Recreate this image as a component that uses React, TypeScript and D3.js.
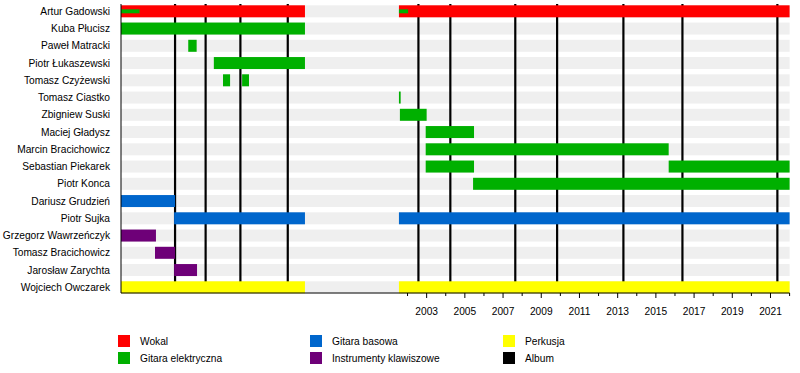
import React from 'react';
import { scaleLinear, scalePoint, range } from 'd3';

// members, top to bottom
const members = [
  'Artur Gadowski',
  'Kuba Płucisz',
  'Paweł Matracki',
  'Piotr Łukaszewski',
  'Tomasz Czyżewski',
  'Tomasz Ciastko',
  'Zbigniew Suski',
  'Maciej Gładysz',
  'Marcin Bracichowicz',
  'Sebastian Piekarek',
  'Piotr Konca',
  'Dariusz Grudzień',
  'Piotr Sujka',
  'Grzegorz Wawrzeńczyk',
  'Tomasz Bracichowicz',
  'Jarosław Zarychta',
  'Wojciech Owczarek',
];

const roles = ['Wokal', 'Gitara elektryczna', 'Gitara basowa', 'Instrumenty klawiszowe', 'Perkusja', 'Album'];
const roleColors = ['#ff0000', '#00b000', '#0066cc', '#6e0078', '#ffff00', '#000000'];

// [member, role index, from, to]
const periods: [string, number, number, number][] = [
  ['Artur Gadowski', 0, 1987, 1996.63],
  ['Artur Gadowski', 0, 2001.55, 2022],
  ['Kuba Płucisz', 1, 1987, 1996.63],
  ['Paweł Matracki', 1, 1990.52, 1990.96],
  ['Piotr Łukaszewski', 1, 1991.86, 1996.63],
  ['Tomasz Czyżewski', 1, 1992.34, 1992.71],
  ['Tomasz Czyżewski', 1, 1993.34, 1993.7],
  ['Tomasz Ciastko', 1, 2001.55, 2001.64],
  ['Zbigniew Suski', 1, 2001.6, 2003.0],
  ['Maciej Gładysz', 1, 2002.95, 2005.48],
  ['Marcin Bracichowicz', 1, 2002.95, 2015.67],
  ['Sebastian Piekarek', 1, 2002.95, 2005.48],
  ['Sebastian Piekarek', 1, 2015.67, 2022],
  ['Piotr Konca', 1, 2005.43, 2022],
  ['Dariusz Grudzień', 2, 1987, 1989.83],
  ['Piotr Sujka', 2, 1989.78, 1996.63],
  ['Piotr Sujka', 2, 2001.55, 2022],
  ['Grzegorz Wawrzeńczyk', 3, 1987, 1988.83],
  ['Tomasz Bracichowicz', 3, 1988.78, 1989.83],
  ['Jarosław Zarychta', 3, 1989.78, 1990.98],
  ['Wojciech Owczarek', 4, 1987, 1996.63],
  ['Wojciech Owczarek', 4, 2001.55, 2022],
];

// thin secondary bars (Artur on guitar)
const secondary: [string, number, number, number][] = [
  ['Artur Gadowski', 1, 1987, 1987.97],
  ['Artur Gadowski', 1, 2001.55, 2002.03],
];

const albums = [1989.83, 1991.43, 1993.25, 1995.73, 2002.57, 2004.24, 2007.64, 2009.83, 2013.3, 2016.39, 2021.36];

const majorYears = range(2003, 2022, 2);
const minorYears = range(2002, 2023, 1);

const font = '"Liberation Sans", Arial, sans-serif';

export default function App() {
  const x = scaleLinear().domain([1987, 2022]).range([121, 789.6]);
  const y = scalePoint<string>().domain(members).range([11.3, 287.3]);
  const barH = 12;
  const axisY = 293;

  const legendCols = [118, 310, 503];
  const legendRows = [341, 358];

  return (
    <svg width={800} height={373} style={{ position: 'absolute', left: 0, top: 0, fontFamily: font }}>
      <rect width={800} height={373} fill="#fff" />
      {members.map((m) => (
        <rect key={'s' + m} x={x(1987)} width={x(2022) - x(1987)} y={y(m)! - barH / 2} height={barH} fill="#efefef" />
      ))}
      {albums.map((a) => (
        <line key={'a' + a} x1={x(a)} x2={x(a)} y1={4} y2={axisY} stroke="#000" strokeWidth={2.2} />
      ))}
      {periods.map(([m, r, s, e], i) => (
        <rect key={'p' + i} x={x(s)} width={x(e) - x(s)} y={y(m)! - barH / 2} height={barH} fill={roleColors[r]} />
      ))}
      {secondary.map(([m, r, s, e], i) => (
        <rect key={'q' + i} x={x(s)} width={x(e) - x(s)} y={y(m)! - 2} height={4} fill={roleColors[r]} />
      ))}
      {members.map((m) => (
        <text key={'l' + m} x={110} y={y(m)} dy="0.35em" textAnchor="end" fontSize={10.2} fill="#000">
          {m}
        </text>
      ))}
      <line x1={x(1987)} x2={x(1987)} y1={4} y2={axisY} stroke="#000" strokeWidth={1} />
      <line x1={x(1987)} x2={x(2022)} y1={axisY} y2={axisY} stroke="#000" strokeWidth={1} />
      {minorYears.map((yr) => (
        <line key={'m' + yr} x1={x(yr)} x2={x(yr)} y1={axisY} y2={axisY + (majorYears.includes(yr) ? 5 : 3)} stroke="#000" strokeWidth={1} />
      ))}
      {majorYears.map((yr) => (
        <text key={'t' + yr} x={x(yr)} y={314.5} textAnchor="middle" fontSize={10.2} fill="#000">
          {yr}
        </text>
      ))}
      {roles.map((r, i) => {
        const cx = legendCols[Math.floor(i / 2)];
        const cy = legendRows[i % 2];
        return (
          <g key={'g' + r}>
            <rect x={cx} y={cy - 6} width={12} height={12} fill={roleColors[i]} />
            <text x={cx + 22} y={cy} dy="0.35em" fontSize={10.2} fill="#000">
              {r}
            </text>
          </g>
        );
      })}
    </svg>
  );
}
